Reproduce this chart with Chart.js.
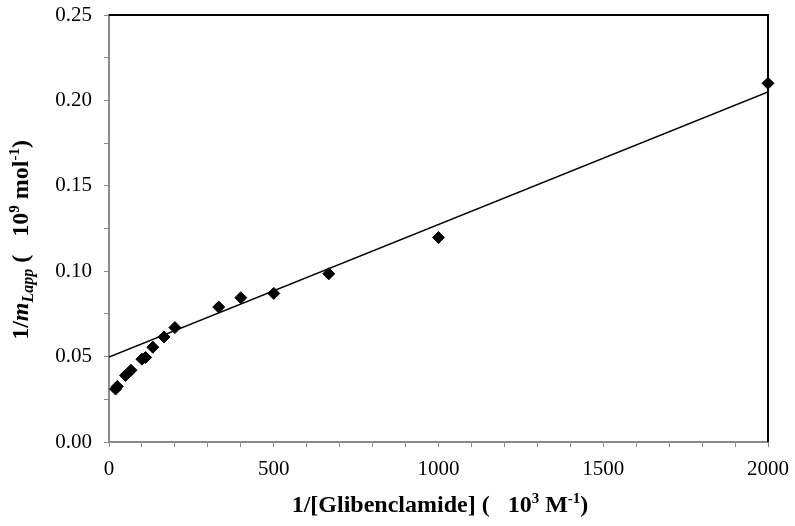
<!DOCTYPE html>
<html>
<head>
<meta charset="utf-8">
<script src="https://cdn.jsdelivr.net/npm/chart.js@4.4.0/dist/chart.umd.min.js"></script>
<style>
    html, body { margin: 0; padding: 0; background: #fff; }
    #wrap { width: 795px; height: 526px; }
</style>
</head>
<body>
<div id="wrap"><canvas id="plot"></canvas></div>
<script>
// Double-reciprocal data
const invConc = [20, 25, 50, 66.7, 100, 111, 133, 167, 200, 333, 400, 500, 667, 1000, 2000];
const invM = [0.031, 0.0325, 0.039, 0.042, 0.0485, 0.0495, 0.0555, 0.0615, 0.067, 0.079, 0.0845, 0.087, 0.0985, 0.1197, 0.21];

// Linear fit endpoints
const fitX = [0, 2000];
const fitY = [0.0497, 0.205];

const FONT = '"Liberation Serif", "Times New Roman", serif';
const axisGray = '#8a8a8a';

// draw a line of mixed-style text runs centred at (cx, cy)
function drawRuns(ctx, runs, cx, cy, angle) {
    ctx.save();
    ctx.translate(cx, cy);
    ctx.rotate(angle);
    let total = 0;
    runs.forEach(r => {
        ctx.font = r.font;
        r.w = ctx.measureText(r.t).width;
        total += r.w;
    });
    let x = -total / 2;
    ctx.fillStyle = '#000';
    ctx.textBaseline = 'alphabetic';
    runs.forEach(r => {
        ctx.font = r.font;
        ctx.fillText(r.t, x, 8 + (r.dy || 0));
        x += r.w;
    });
    ctx.restore();
}

const B = 'bold 24px ' + FONT;
const BI = 'italic bold 24px ' + FONT;
const SUP = 'bold 15px ' + FONT;
const SUBI = 'italic bold 16px ' + FONT;

const xTitle = [
    { t: '1/[Glibenclamide] (   10', font: B },
    { t: '3', font: SUP, dy: -9 },
    { t: ' M', font: B },
    { t: '-1', font: SUP, dy: -9 },
    { t: ')', font: B }
];
const yTitle = [
    { t: '1/', font: B },
    { t: 'm', font: BI },
    { t: 'Lapp', font: SUBI, dy: 5 },
    { t: ' (   10', font: B },
    { t: '9', font: SUP, dy: -9 },
    { t: ' mol', font: B },
    { t: '-1', font: SUP, dy: -9 },
    { t: ')', font: B }
];

const frame = {
    id: 'frame',
    afterDraw(chart) {
        const { ctx, chartArea: a } = chart;
        ctx.save();
        ctx.strokeStyle = '#000';
        ctx.lineWidth = 2;
        ctx.beginPath();
        ctx.moveTo(a.left, a.top);
        ctx.lineTo(a.right, a.top);
        ctx.lineTo(a.right, a.bottom);
        ctx.stroke();
        ctx.restore();
        drawRuns(ctx, xTitle, 440, 504, 0);
        drawRuns(ctx, yTitle, 20, 240, -Math.PI / 2);
    }
};

new Chart(document.getElementById('plot'), {
    data: {
        datasets: [{
            type: 'scatter',
            data: invConc.map((x, i) => ({ x: x, y: invM[i] })),
            pointStyle: 'rectRot',
            pointRadius: 6,
            backgroundColor: '#000',
            borderColor: '#000',
            borderWidth: 1,
            clip: false,
            order: 1
        }, {
            type: 'line',
            data: fitX.map((x, i) => ({ x: x, y: fitY[i] })),
            borderColor: '#000',
            borderWidth: 1.5,
            pointRadius: 0,
            fill: false,
            order: 2
        }]
    },
    options: {
        responsive: true,
        maintainAspectRatio: false,
        animation: false,
        layout: { padding: { top: 15, right: 27, left: 0, bottom: 0 } },
        plugins: { legend: { display: false }, tooltip: { enabled: false } },
        scales: {
            x: {
                type: 'linear',
                min: 0,
                max: 2000,
                afterFit: s => { s.height = 84; s.paddingLeft = 0; s.paddingRight = 0; },
                border: { color: axisGray, width: 2 },
                grid: { drawOnChartArea: false, drawTicks: true, tickLength: 5, color: axisGray },
                ticks: {
                    stepSize: 100,
                    autoSkip: false,
                    maxRotation: 0,
                    padding: 10,
                    color: '#000',
                    font: { family: FONT, size: 21 },
                    callback: v => (v % 500 === 0 ? String(v) : '')
                }
            },
            y: {
                min: 0,
                max: 0.25,
                afterFit: s => { s.width = 109; s.paddingTop = 0; s.paddingBottom = 0; },
                border: { color: axisGray, width: 2 },
                grid: { drawOnChartArea: false, drawTicks: true, tickLength: 5, color: axisGray },
                ticks: {
                    stepSize: 0.025,
                    autoSkip: false,
                    padding: 12,
                    color: '#000',
                    font: { family: FONT, size: 21 },
                    callback: v => (Math.round(v * 1000) % 50 === 0 ? v.toFixed(2) : '')
                }
            }
        }
    },
    plugins: [frame]
});
</script>
</body>
</html>
